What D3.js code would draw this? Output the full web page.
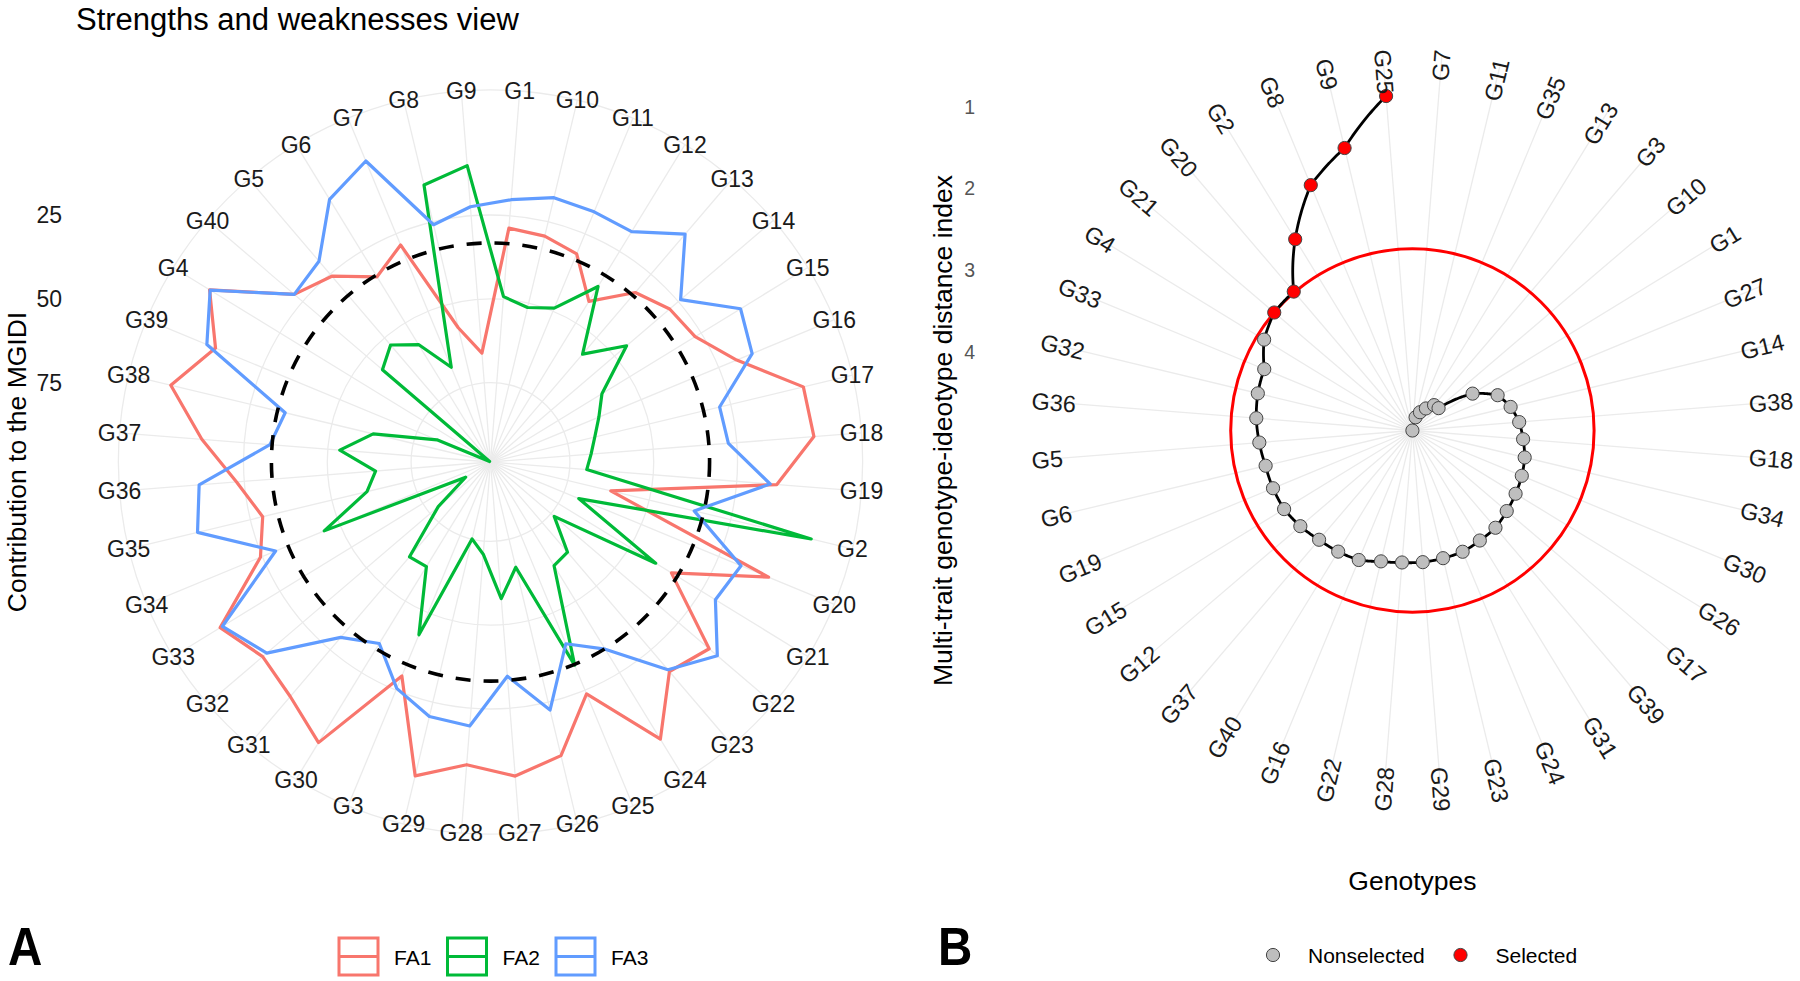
<!DOCTYPE html>
<html>
<head>
<meta charset="utf-8">
<script src="https://cdn.jsdelivr.net/npm/d3@7"></script>
<style>
  body { margin: 0; background: #ffffff; }
  svg { display: block; }
  text { font-family: "Liberation Sans", Arial, Helvetica, sans-serif; }
</style>
</head>
<body>
<svg id="chart" width="1800" height="981"></svg>
<script>
// ---------------- DATA ----------------
// Panel A: contribution (%) of each factor to the MGIDI, genotypes in alphabetical order
const genotypes = ["G1","G10","G11","G12","G13","G14","G15","G16","G17","G18",
  "G19","G2","G20","G21","G22","G23","G24","G25","G26","G27",
  "G28","G29","G3","G30","G31","G32","G33","G34","G35","G36",
  "G37","G38","G39","G4","G40","G5","G6","G7","G8","G9"];

const FA1 = [28.7,29.4,31.5,42.5,32.2,28.4,27.1,19.2,2.7,1.9,
  13.0,61.8,8.9,35.4,12.9,16.5,1.7,23.8,8.6,4.7,
  8.1,2.4,29.6,0.5,6.7,9.3,4.1,24.4,28.8,22.7,
  12.3,0.6,9.9,0.4,21.7,25.8,33.9,28.6,57.5,66.1];

const FA2 = [49.2,51.3,49.0,37.3,56.4,45.3,59.7,63.7,66.7,68.6,
  69.9,0.3,70.2,40.9,73.7,63.3,62.4,33.1,66.4,57.8,
  71.1,75.1,42.9,62.1,61.5,78.2,90.0,45.0,60.8,64.3,
  53.6,62.7,81.4,98.4,56.3,52.8,57.6,68.1,13.7,10.0];

const FA3 = [20.2,17.6,17.9,18.1,9.3,24.1,11.2,14.2,28.4,27.5,
  15.0,36.2,17.8,20.0,9.7,17.2,33.2,40.0,22.6,34.6,
  19.7,20.6,25.6,35.2,29.9,10.9,4.9,29.3,8.8,11.5,
  32.7,35.7,7.1,0.6,21.7,19.9,6.8,1.5,25.9,22.3];

const factorNames = ["FA1","FA2","FA3"];
const factorColors = ["#F8766D","#00BA38","#619CFF"];
const contribTicks = [25, 50, 75];
const contribDomain = [98.7, 0];          // reversed radial axis (center = max)
const expectedContribution = 100 / 3;     // dashed reference circle

// Panel B: MGIDI, genotypes ranked
const rankedGenotypes = ["G25","G9","G8","G2","G20","G21","G4","G33","G32","G36",
  "G5","G6","G19","G15","G12","G37","G40","G16","G22","G28",
  "G29","G23","G24","G31","G39","G17","G26","G30","G34","G18",
  "G38","G14","G27","G1","G10","G3","G13","G35","G11","G7"];
const mgidi = [0.857,1.407,1.712,2.217,2.726,2.738,2.833,2.999,3.016,3.045,
  3.082,3.114,3.115,3.120,3.158,3.203,3.223,3.246,3.314,3.341,
  3.345,3.354,3.355,3.382,3.396,3.443,3.480,3.512,3.548,3.602,
  3.650,3.725,3.832,4.097,4.539,4.552,4.644,4.718,4.794,4.960];
const nSelected = 6;
const mgidiTicks = [1, 2, 3, 4];
const legendB = ["Nonselected", "Selected"];

// ---------------- DRAW ----------------
const svg = d3.select("#chart");
const GRID = "#EBEBEB";

// ===== Panel A =====
const cxA = 490.5, cyA = 462, rDataA = 330.8, rOuterA = rDataA * 0.45 / 0.4;
const angA = d3.scaleBand().domain(genotypes).range([0, 2 * Math.PI]);
const thetaA = g => angA(g) + angA.bandwidth() / 2;
const rA = d3.scaleLinear().domain(contribDomain).range([0, rDataA]);

const gA = svg.append("g").attr("transform", `translate(${cxA},${cyA})`);

// grid circles
gA.selectAll("circle.grid")
  .data(contribTicks.map(t => rA(t)).concat([rOuterA]))
  .join("circle")
  .attr("r", d => d)
  .attr("fill", "none")
  .attr("stroke", GRID)
  .attr("stroke-width", 1.3);

// spokes
gA.selectAll("line.spoke")
  .data(genotypes)
  .join("line")
  .attr("x1", 0).attr("y1", 0)
  .attr("x2", g => rOuterA * Math.sin(thetaA(g)))
  .attr("y2", g => -rOuterA * Math.cos(thetaA(g)))
  .attr("stroke", GRID)
  .attr("stroke-width", 1.3);

// factor polygons
const seriesA = [FA1, FA2, FA3];
const radarLine = d3.lineRadial()
  .angle(d => thetaA(d.g))
  .radius(d => rA(d.v))
  .curve(d3.curveLinearClosed);

seriesA.forEach((vals, k) => {
  const pts = genotypes.map((g, i) => ({ g, v: vals[i] }));
  gA.append("path")
    .attr("d", radarLine(pts))
    .attr("fill", "none")
    .attr("stroke", factorColors[k])
    .attr("stroke-width", 3.2)
    .attr("stroke-linejoin", "round");
});

// dashed expected-contribution circle
gA.append("circle")
  .attr("r", rA(expectedContribution))
  .attr("fill", "none")
  .attr("stroke", "#000")
  .attr("stroke-width", 3.6)
  .attr("stroke-dasharray", "15,13");

// genotype labels
gA.selectAll("text.lab")
  .data(genotypes)
  .join("text")
  .attr("x", g => rOuterA * Math.sin(thetaA(g)))
  .attr("y", g => -rOuterA * Math.cos(thetaA(g)))
  .attr("dy", "0.36em")
  .attr("text-anchor", "middle")
  .attr("font-size", 23)
  .attr("fill", "#1a1a1a")
  .text(g => g);

// radial tick labels
svg.selectAll("text.tickA")
  .data(contribTicks)
  .join("text")
  .attr("x", 62)
  .attr("y", t => cyA - rA(t))
  .attr("dy", "0.36em")
  .attr("text-anchor", "end")
  .attr("font-size", 23)
  .attr("fill", "#1a1a1a")
  .text(t => t);

// title
svg.append("text")
  .attr("x", 76).attr("y", 30)
  .attr("font-size", 31)
  .attr("fill", "#000")
  .text("Strengths and weaknesses view");

// y title A
svg.append("text")
  .attr("transform", `translate(26,${cyA}) rotate(-90)`)
  .attr("text-anchor", "middle")
  .attr("font-size", 26.5)
  .attr("fill", "#000")
  .text("Contribution to the MGIDI");

// legend A
const legA = svg.append("g");
factorNames.forEach((name, k) => {
  const x0 = 339 + k * 108.5;
  legA.append("rect")
    .attr("x", x0).attr("y", 938)
    .attr("width", 39).attr("height", 37)
    .attr("fill", "none")
    .attr("stroke", factorColors[k])
    .attr("stroke-width", 3);
  legA.append("line")
    .attr("x1", x0).attr("x2", x0 + 39)
    .attr("y1", 956.5).attr("y2", 956.5)
    .attr("stroke", factorColors[k])
    .attr("stroke-width", 3);
  legA.append("text")
    .attr("x", x0 + 55).attr("y", 965)
    .attr("font-size", 21)
    .attr("fill", "#000")
    .text(name);
});

// panel letter A
svg.append("text")
  .attr("transform", "translate(8,965) scale(0.88,1)")
  .attr("font-size", 54)
  .attr("font-weight", "bold")
  .attr("fill", "#000")
  .text("A");

// ===== Panel B =====
const cxB = 1412.4, cyB = 430.5, rDataB = 335.5, rOuterB = rDataB * 0.45 / 0.4;
const angB = d3.scaleBand().domain(rankedGenotypes).range([0, -2 * Math.PI]);
const thetaB = g => angB(g) + angB.bandwidth() / 2;
const ext = d3.extent(mgidi);
const rB = d3.scaleLinear().domain([ext[1], ext[0]]).range([0, rDataB]);

const gB = svg.append("g").attr("transform", `translate(${cxB},${cyB})`);

// spokes
gB.selectAll("line.spoke")
  .data(rankedGenotypes)
  .join("line")
  .attr("x1", 0).attr("y1", 0)
  .attr("x2", g => rOuterB * Math.sin(thetaB(g)))
  .attr("y2", g => -rOuterB * Math.cos(thetaB(g)))
  .attr("stroke", GRID)
  .attr("stroke-width", 1.3);

// cut-point circle
gB.append("circle")
  .attr("r", rB(mgidi[nSelected - 1]))
  .attr("fill", "none")
  .attr("stroke", "#FF0000")
  .attr("stroke-width", 3);

// spiral path (polar interpolation between consecutive genotypes)
const ptsB = rankedGenotypes.map((g, i) => ({
  g, v: mgidi[i], a: thetaB(g), r: rB(mgidi[i]), sel: i < nSelected
}));
const spiral = [];
for (let i = 0; i < ptsB.length - 1; i++) {
  const p = ptsB[i], q = ptsB[i + 1];
  for (let s = 0; s < 30; s++) {
    const t = s / 30;
    spiral.push([p.a + (q.a - p.a) * t, p.r + (q.r - p.r) * t]);
  }
}
spiral.push([ptsB[ptsB.length - 1].a, ptsB[ptsB.length - 1].r]);
gB.append("path")
  .attr("d", d3.lineRadial().angle(d => d[0]).radius(d => d[1])(spiral))
  .attr("fill", "none")
  .attr("stroke", "#000")
  .attr("stroke-width", 2.8)
  .attr("stroke-linejoin", "round");

// points (nonselected drawn first, selected on top)
gB.selectAll("circle.pt")
  .data(ptsB.slice().reverse())
  .join("circle")
  .attr("cx", d => d.r * Math.sin(d.a))
  .attr("cy", d => -d.r * Math.cos(d.a))
  .attr("r", 6.6)
  .attr("fill", d => d.sel ? "#FF0000" : "#BEBEBE")
  .attr("stroke", "#444")
  .attr("stroke-width", 1);

// rotated genotype labels
const labR = 382;
const degOf = a => (((a * 180 / Math.PI) % 360) + 360) % 360;
gB.selectAll("text.lab")
  .data(ptsB)
  .join("text")
  .attr("transform", d => {
    const deg = degOf(d.a);
    const x = labR * Math.sin(d.a), y = -labR * Math.cos(d.a);
    const rot = deg < 180 ? deg - 90 : deg + 90;
    return `translate(${x},${y}) rotate(${rot})`;
  })
  .attr("text-anchor", d => degOf(d.a) < 180 ? "end" : "start")
  .attr("dy", "0.36em")
  .attr("font-size", 23.5)
  .attr("fill", "#1a1a1a")
  .text(d => d.g);

// tick labels B
svg.selectAll("text.tickB")
  .data(mgidiTicks)
  .join("text")
  .attr("x", 975)
  .attr("y", t => cyB - rB(t))
  .attr("dy", "0.36em")
  .attr("text-anchor", "end")
  .attr("font-size", 19.5)
  .attr("fill", "#555")
  .text(t => t);

// axis titles B
svg.append("text")
  .attr("transform", `translate(952,${cyB}) rotate(-90)`)
  .attr("text-anchor", "middle")
  .attr("font-size", 26.5)
  .attr("fill", "#000")
  .text("Multi-trait genotype-ideotype distance index");

svg.append("text")
  .attr("x", cxB).attr("y", 890)
  .attr("text-anchor", "middle")
  .attr("font-size", 26.5)
  .attr("fill", "#000")
  .text("Genotypes");

// legend B
const legBx = [1273, 1460.5];
legendB.forEach((name, k) => {
  svg.append("circle")
    .attr("cx", legBx[k]).attr("cy", 955)
    .attr("r", 6.6)
    .attr("fill", k === 0 ? "#BEBEBE" : "#FF0000")
    .attr("stroke", "#444")
    .attr("stroke-width", 1);
  svg.append("text")
    .attr("x", legBx[k] + 35).attr("y", 962.5)
    .attr("font-size", 21)
    .attr("fill", "#000")
    .text(name);
});

// panel letter B
svg.append("text")
  .attr("transform", "translate(938,965) scale(0.88,1)")
  .attr("font-size", 54)
  .attr("font-weight", "bold")
  .attr("fill", "#000")
  .text("B");
</script>
</body>
</html>
